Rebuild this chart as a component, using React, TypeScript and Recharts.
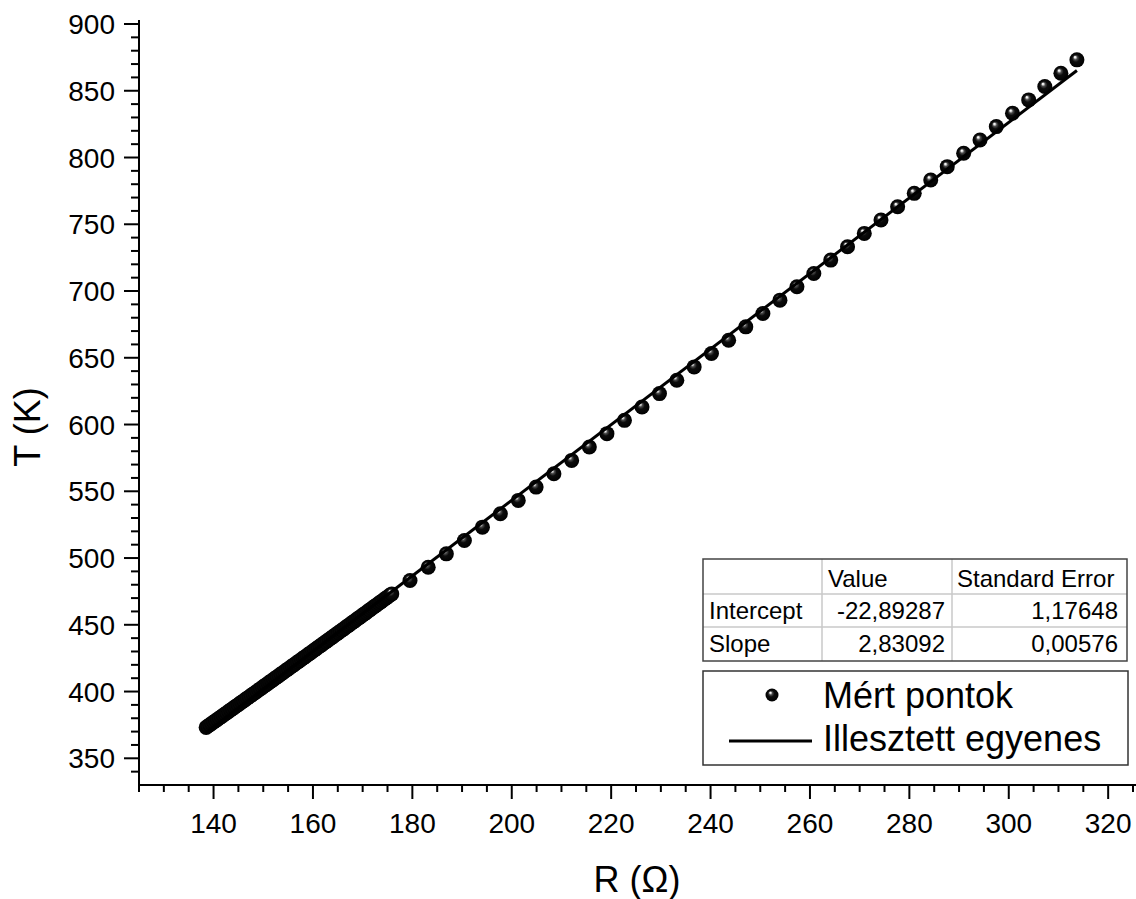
import React from 'react';
import { ScatterChart, Scatter, XAxis, YAxis } from 'recharts';

// Measured points: dense part (R in ohm, T in K)
const denseR = [
  138.51, 138.88, 139.26, 139.64, 140.02, 140.40, 140.78, 141.16, 141.54, 141.91,
  142.29, 142.67, 143.05, 143.43, 143.80, 144.18, 144.56, 144.94, 145.31, 145.69,
  146.07, 146.44, 146.82, 147.20, 147.57, 147.95, 148.33, 148.70, 149.08, 149.46,
  149.83, 150.21, 150.58, 150.96, 151.33, 151.71, 152.08, 152.46, 152.83, 153.21,
  153.58, 153.96, 154.33, 154.71, 155.08, 155.46, 155.83, 156.20, 156.58, 156.95,
  157.33, 157.70, 158.07, 158.45, 158.82, 159.19, 159.56, 159.94, 160.31, 160.68,
  161.05, 161.43, 161.80, 162.17, 162.54, 162.91, 163.29, 163.66, 164.03, 164.40,
  164.77, 165.14, 165.51, 165.89, 166.26, 166.63, 167.00, 167.37, 167.74, 168.11,
  168.48, 168.85, 169.22, 169.59, 169.96, 170.33, 170.70, 171.07, 171.43, 171.80,
  172.17, 172.54, 172.91, 173.28, 173.65, 174.02, 174.38, 174.75, 175.12, 175.49,
  175.86,
];
const denseT = [
  373.15, 374.15, 375.15, 376.15, 377.15, 378.15, 379.15, 380.15, 381.15, 382.15,
  383.15, 384.15, 385.15, 386.15, 387.15, 388.15, 389.15, 390.15, 391.15, 392.15,
  393.15, 394.15, 395.15, 396.15, 397.15, 398.15, 399.15, 400.15, 401.15, 402.15,
  403.15, 404.15, 405.15, 406.15, 407.15, 408.15, 409.15, 410.15, 411.15, 412.15,
  413.15, 414.15, 415.15, 416.15, 417.15, 418.15, 419.15, 420.15, 421.15, 422.15,
  423.15, 424.15, 425.15, 426.15, 427.15, 428.15, 429.15, 430.15, 431.15, 432.15,
  433.15, 434.15, 435.15, 436.15, 437.15, 438.15, 439.15, 440.15, 441.15, 442.15,
  443.15, 444.15, 445.15, 446.15, 447.15, 448.15, 449.15, 450.15, 451.15, 452.15,
  453.15, 454.15, 455.15, 456.15, 457.15, 458.15, 459.15, 460.15, 461.15, 462.15,
  463.15, 464.15, 465.15, 466.15, 467.15, 468.15, 469.15, 470.15, 471.15, 472.15,
  473.15,
];
// Measured points: sparse part
const sparseR = [
  179.53, 183.19, 186.84, 190.47, 194.10, 197.71, 201.31, 204.90, 208.48, 212.05,
  215.61, 219.15, 222.68, 226.21, 229.72, 233.21, 236.70, 240.18, 243.64, 247.09,
  250.53, 253.96, 257.38, 260.78, 264.18, 267.56, 270.93, 274.29, 277.64, 280.98,
  284.30, 287.62, 290.92, 294.21, 297.49, 300.75, 304.01, 307.25, 310.49, 313.71,
];
const sparseT = [
  483.15, 493.15, 503.15, 513.15, 523.15, 533.15, 543.15, 553.15, 563.15, 573.15,
  583.15, 593.15, 603.15, 613.15, 623.15, 633.15, 643.15, 653.15, 663.15, 673.15,
  683.15, 693.15, 703.15, 713.15, 723.15, 733.15, 743.15, 753.15, 763.15, 773.15,
  783.15, 793.15, 803.15, 813.15, 823.15, 833.15, 843.15, 853.15, 863.15, 873.15,
];
// Fitted straight line end points
const fitR = [138.51, 313.71];
const fitT = [369.22, 865.2];

const xTicks = [
  125, 130, 135, 140, 145, 150, 155, 160, 165, 170, 175, 180, 185, 190, 195, 200,
  205, 210, 215, 220, 225, 230, 235, 240, 245, 250, 255, 260, 265, 270, 275, 280,
  285, 290, 295, 300, 305, 310, 315, 320, 325,
];
const xMajor = [140, 160, 180, 200, 220, 240, 260, 280, 300, 320];
const yTicks = [
  340, 350, 360, 370, 380, 390, 400, 410, 420, 430, 440, 450, 460, 470, 480, 490,
  500, 510, 520, 530, 540, 550, 560, 570, 580, 590, 600, 610, 620, 630, 640, 650,
  660, 670, 680, 690, 700, 710, 720, 730, 740, 750, 760, 770, 780, 790, 800, 810,
  820, 830, 840, 850, 860, 870, 880, 890, 900,
];
const yMajor = [350, 400, 450, 500, 550, 600, 650, 700, 750, 800, 850, 900];

const tableHeader = ['', 'Value', 'Standard Error'];
const tableRows = [
  ['Intercept', '-22,89287', '1,17648'],
  ['Slope', '2,83092', '0,00576'],
];
const legendLabels = ['Mért pontok', 'Illesztett egyenes'];

const points = [
  ...denseR.map((r, i) => ({ r, t: denseT[i] })),
  ...sparseR.map((r, i) => ({ r, t: sparseT[i] })),
];
const fitData = fitR.map((r, i) => ({ r, t: fitT[i] }));

const FONT = '"Liberation Sans", Arial, Helvetica, sans-serif';

function XTick(props: any) {
  const { x, y, payload } = props;
  const v = payload.value;
  const major = xMajor.includes(v);
  return (
    <g>
      <line x1={x} x2={x} y1={y} y2={y + (major ? 14 : 7)} stroke="#000" strokeWidth={2} />
      {major && (
        <text x={x} y={y + 48} textAnchor="middle" fontSize={28} fontFamily={FONT} fill="#000">
          {v}
        </text>
      )}
    </g>
  );
}

function YTick(props: any) {
  const { x, y, payload } = props;
  const v = payload.value;
  const major = yMajor.includes(v);
  return (
    <g>
      <line x1={x - (major ? 15 : 8)} x2={x} y1={y} y2={y} stroke="#000" strokeWidth={2} />
      {major && (
        <text x={x - 24} y={y + 10} textAnchor="end" fontSize={28} fontFamily={FONT} fill="#000">
          {v}
        </text>
      )}
    </g>
  );
}

const Ball = (props: any) => (
  <circle cx={props.cx} cy={props.cy} r={7.5} fill="url(#ballGrad)" />
);

export default function App() {
  const colX = [703, 822, 952, 1127];
  const rowY = [559, 594, 627, 661];
  return (
    <div style={{ position: 'absolute', left: 0, top: 0, width: 1136, height: 899, background: '#fff' }}>
      <svg width={0} height={0} style={{ position: 'absolute' }}>
        <defs>
          <radialGradient id="ballGrad" cx="0.5" cy="0.5" r="0.5" fx="0.36" fy="0.3">
            <stop offset="0" stopColor="#ffffff" />
            <stop offset="0.1" stopColor="#eeeeee" />
            <stop offset="0.28" stopColor="#4a4a4a" />
            <stop offset="0.5" stopColor="#0c0c0c" />
            <stop offset="1" stopColor="#000000" />
          </radialGradient>
        </defs>
      </svg>
      <ScatterChart width={1136} height={899} margin={{ top: 20, right: 0, bottom: 0, left: 0 }}>
        <XAxis
          type="number"
          dataKey="r"
          domain={[125, 325.6]}
          ticks={xTicks}
          interval={0}
          tickSize={0}
          tickMargin={0}
          tickLine={false}
          tick={<XTick />}
          height={114}
          axisLine={{ stroke: '#000', strokeWidth: 2 }}
          allowDataOverflow
        />
        <YAxis
          type="number"
          dataKey="t"
          domain={[330, 903]}
          ticks={yTicks}
          interval={0}
          tickSize={0}
          tickMargin={0}
          tickLine={false}
          tick={<YTick />}
          width={139}
          axisLine={{ stroke: '#000', strokeWidth: 2 }}
          allowDataOverflow
        />
        <Scatter data={points} shape={Ball} isAnimationActive={false} />
        <Scatter
          data={fitData}
          line={{ stroke: '#000', strokeWidth: 3 }}
          shape={() => <g />}
          isAnimationActive={false}
        />
      </ScatterChart>
      <svg
        width={1136}
        height={899}
        style={{ position: 'absolute', left: 0, top: 0, pointerEvents: 'none' }}
        fontFamily={FONT}
      >
        {/* axis titles */}
        <text x={40} y={427} transform="rotate(-90 40 427)" textAnchor="middle" fontSize={36} fill="#000">
          T (K)
        </text>
        <text x={637} y={892} textAnchor="middle" fontSize={36} fill="#000">
          R (Ω)
        </text>
        {/* fit table */}
        <rect x={colX[0]} y={rowY[0]} width={colX[3] - colX[0]} height={rowY[3] - rowY[0]} fill="#fff" />
        {[colX[1], colX[2]].map((cx) => (
          <line key={'c' + cx} x1={cx} x2={cx} y1={rowY[0]} y2={rowY[3]} stroke="#c8c8c8" strokeWidth={1.5} />
        ))}
        {[rowY[1], rowY[2]].map((ry) => (
          <line key={'r' + ry} x1={colX[0]} x2={colX[3]} y1={ry} y2={ry} stroke="#c8c8c8" strokeWidth={1.5} />
        ))}
        <rect
          x={colX[0]}
          y={rowY[0]}
          width={colX[3] - colX[0]}
          height={rowY[3] - rowY[0]}
          fill="none"
          stroke="#444"
          strokeWidth={1.5}
        />
        <text x={colX[1] + 6} y={587} fontSize={24} fill="#000">{tableHeader[1]}</text>
        <text x={colX[2] + 5} y={587} fontSize={24} fill="#000">{tableHeader[2]}</text>
        {tableRows.map((row, i) => {
          const by = i === 0 ? 619 : 652;
          return (
            <g key={row[0]}>
              <text x={colX[0] + 6} y={by} fontSize={24} fill="#000">{row[0]}</text>
              <text x={colX[2] - 7} y={by} fontSize={24} fill="#000" textAnchor="end">{row[1]}</text>
              <text x={colX[3] - 9} y={by} fontSize={24} fill="#000" textAnchor="end">{row[2]}</text>
            </g>
          );
        })}
        {/* legend */}
        <rect x={703} y={671} width={425} height={94} fill="#fff" stroke="#333" strokeWidth={1.5} />
        <circle cx={772} cy={695} r={6.5} fill="url(#ballGrad)" />
        <text x={823} y={708} fontSize={36} fill="#000">{legendLabels[0]}</text>
        <line x1={729} x2={812} y1={741} y2={741} stroke="#000" strokeWidth={3} />
        <text x={823} y={751} fontSize={36} fill="#000">{legendLabels[1]}</text>
      </svg>
    </div>
  );
}
